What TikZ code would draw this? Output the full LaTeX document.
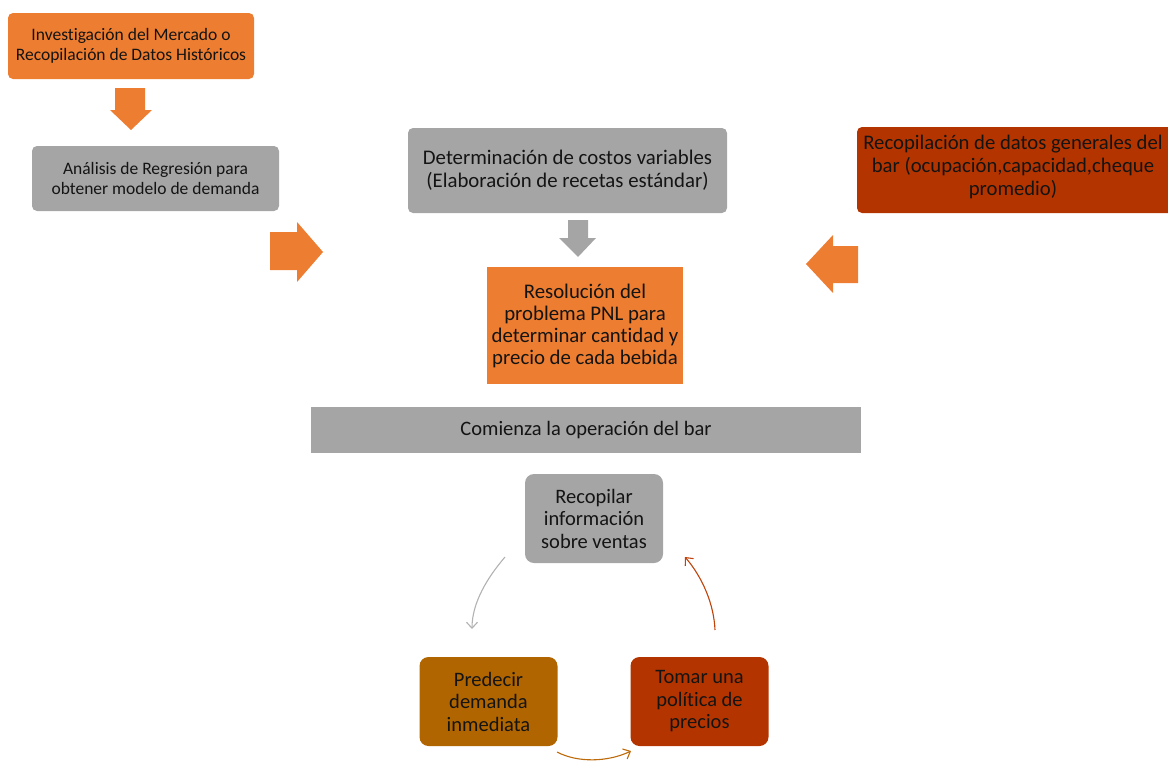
\documentclass[tikz,border=0pt]{standalone}
\usepackage{fontspec}
\setmainfont[Ligatures=NoCommon]{Carlito}
\usetikzlibrary{arrows.meta}
\definecolor{orangeA}{RGB}{237,125,49}
\definecolor{grayA}{RGB}{165,165,165}
\definecolor{redA}{RGB}{180,52,0}
\definecolor{brownA}{RGB}{176,101,0}
\definecolor{txt}{RGB}{20,20,20}
\tikzset{
  box/.style={inner sep=0pt, align=center, text=txt, anchor=center},
  rbox/.style={box, rounded corners=5pt},
  cyc/.style={box, rounded corners=9pt, minimum width=138pt, minimum height=89pt,
    font=\fontsize{20.5}{22.5}\selectfont},
  thinarrow/.style={line width=1.1pt, -{Straight Barb[length=6pt,width=11pt]}},
}
\begin{document}
\begin{tikzpicture}[x=1pt,y=-1pt]
\useasboundingbox (0,0) rectangle (1168,763);
% top-left
\node[rbox, fill=orangeA, minimum width=246pt, minimum height=66pt,
  font=\fontsize{17.5}{20}\selectfont] (inv) at (131,46)
  {Investigación del Mercado o\\Recopilación de Datos Históricos};
\fill[orangeA] (115,88) -- (145,88) -- (145,110) -- (152,110) -- (131,130)
  -- (110,110) -- (115,110) -- cycle;
\node[rbox, fill=grayA, minimum width=247pt, minimum height=65pt,
  font=\fontsize{17.5}{20}\selectfont] (reg) at (155.5,178.5)
  {Análisis de Regresión para\\obtener modelo de demanda};
\fill[orangeA] (270,232) -- (297,232) -- (297,222) -- (323,252) -- (297,282)
  -- (297,270) -- (270,270) -- cycle;
% centre
\node[rbox, fill=grayA, minimum width=319pt, minimum height=85pt,
  font=\fontsize{20.8}{23}\selectfont] (cost) at (567.5,170.5)
  {Determinación de costos variables\\(Elaboración de recetas estándar)};
\fill[grayA] (568,220) -- (588,220) -- (588,238) -- (596,238) -- (578,257)
  -- (559,238) -- (568,238) -- cycle;
\node[box, fill=orangeA, minimum width=196pt, minimum height=117pt,
  font=\fontsize{20.8}{22}\selectfont] (pnl) at (585,325.5)
  {Resolución del\\problema PNL para\\determinar cantidad y\\precio de cada bebida};
% right
\node[rbox, fill=redA, minimum width=320pt, minimum height=86pt] (bar) at (1017,170)
  {};
\node[box, font=\fontsize{20.7}{23}\selectfont] (bartxt) at (1013,167)
  {Recopilación de datos generales del\\bar (ocupación,capacidad,cheque\\promedio)};
\fill[orangeA] (858,246) -- (833,246) -- (833,235) -- (806,264) -- (833,293)
  -- (833,283) -- (858,283) -- cycle;
% operation bar
\node[box, fill=grayA, minimum width=550pt, minimum height=46pt,
  font=\fontsize{20.5}{22}\selectfont] (op) at (586,430)
  {Comienza la operación del bar};
% cycle
\node[cyc, fill=grayA] (rec) at (594,518.5)
  {Recopilar\\información\\sobre ventas};
\node[cyc, fill=brownA] (pred) at (488.5,701.5)
  {Predecir\\demanda\\inmediata};
\node[cyc, fill=redA] (tom) at (699.5,701.5)
  {Tomar una\\política de\\precios};
\coordinate (g1) at (505,557);
\coordinate (g2) at (472,629);
\coordinate (r1) at (715,630);
\coordinate (r2) at (685,557);
\coordinate (b1) at (557,752);
\coordinate (b2) at (631,751);
\draw[thinarrow, draw=grayA!85!white] (g1) .. controls (487,578) and (472,603) .. (g2);
\draw[thinarrow, draw=redA!80!orangeA] (r1) .. controls (714,605) and (703,578) .. (r2);
\draw[thinarrow, draw=brownA!80!orangeA] (b1) .. controls (578,763) and (608,762) .. (b2);
\end{tikzpicture}
\end{document}
